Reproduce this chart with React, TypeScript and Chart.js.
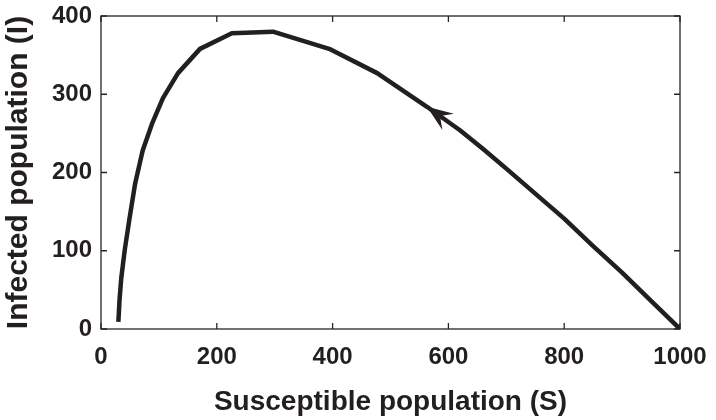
import React, { useEffect, useRef } from "react";
import { Chart, registerables } from "chart.js";

Chart.register(...registerables);

// Trajectory (in order of travel: S decreasing)
const susceptible = [1000, 950, 900, 850, 800, 750, 700, 660, 620, 563, 477, 394, 297, 226, 171, 133, 107, 88, 72, 59, 49, 41, 35, 32, 30];
const infected = [0, 36, 72, 106, 141, 173, 205, 230, 254, 284, 327, 358, 380, 378, 358, 327, 295, 262, 228, 186, 140, 101, 65, 37, 9];

// Arrow head location on the curve (tip) and a point behind it for direction
const arrowTip = { S: 563, I: 284 };
const arrowFrom = { S: 620, I: 254 };

const xTicks = [0, 200, 400, 600, 800, 1000];
const yTicks = [0, 100, 200, 300, 400];

const xTitle = "Susceptible population (S)";
const yTitle = "Infected population (I)";

const INK = "#231f20";
const FONT = "'Liberation Sans', Arial, Helvetica, sans-serif";

const frameAndArrow = {
  id: "frameAndArrow",
  afterDatasetsDraw(chart: any) {
    const { ctx, chartArea } = chart;
    const xs = chart.scales.x;
    const ys = chart.scales.y;
    const { left, right, top, bottom } = chartArea;
    ctx.save();
    // arrow head
    const tx = xs.getPixelForValue(arrowTip.S);
    const ty = ys.getPixelForValue(arrowTip.I);
    const fx = xs.getPixelForValue(arrowFrom.S);
    const fy = ys.getPixelForValue(arrowFrom.I);
    let dx = fx - tx;
    let dy = fy - ty;
    const len = Math.hypot(dx, dy);
    dx /= len;
    dy /= len;
    const px = -dy;
    const py = dx;
    const L = 26;
    const W = 10;
    const N = 16;
    ctx.fillStyle = INK;
    ctx.beginPath();
    ctx.moveTo(tx, ty);
    ctx.lineTo(tx + dx * L + px * W, ty + dy * L + py * W);
    ctx.lineTo(tx + dx * N, ty + dy * N);
    ctx.lineTo(tx + dx * L - px * W, ty + dy * L - py * W);
    ctx.closePath();
    ctx.fill();

    // frame
    ctx.strokeStyle = "#262626";
    ctx.lineWidth = 1.3;
    ctx.strokeRect(left, top, right - left, bottom - top);
    // inward ticks on all four sides
    const tl = 6;
    ctx.beginPath();
    for (const v of xTicks) {
      const x = xs.getPixelForValue(v);
      ctx.moveTo(x, bottom);
      ctx.lineTo(x, bottom - tl);
      ctx.moveTo(x, top);
      ctx.lineTo(x, top + tl);
    }
    for (const v of yTicks) {
      const y = ys.getPixelForValue(v);
      ctx.moveTo(left, y);
      ctx.lineTo(left + tl, y);
      ctx.moveTo(right, y);
      ctx.lineTo(right - tl, y);
    }
    ctx.stroke();
    ctx.restore();
  },
};

export default function App() {
  const ref = useRef<HTMLCanvasElement | null>(null);
  useEffect(() => {
    if (!ref.current) return;
    const chart = new Chart(ref.current, {
      type: "scatter",
      data: {
        datasets: [
          {
            data: susceptible.map((s, i) => ({ x: s, y: infected[i] })),
            showLine: true,
            borderColor: INK,
            borderWidth: 4.5,
            pointRadius: 0,
            tension: 0,
            borderJoinStyle: "round",
            borderCapStyle: "butt",
          } as any,
        ],
      },
      options: {
        responsive: false,
        animation: false,
        events: [],
        layout: { padding: { left: 0, right: 36, top: 16, bottom: 0 } },
        plugins: { legend: { display: false }, tooltip: { enabled: false } },
        scales: {
          x: {
            type: "linear",
            min: 0,
            max: 1000,
            afterBuildTicks: (s: any) => {
              s.ticks = xTicks.map((v) => ({ value: v }));
            },
            afterFit: (s: any) => {
              s.height = 91;
              s.paddingLeft = 0;
              s.paddingRight = 0;
            },
            ticks: {
              color: INK,
              font: { family: FONT, size: 24, weight: "bold" },
              padding: 14,
              maxRotation: 0,
              callback: (v: any) => String(v),
            },
            grid: { display: false, drawTicks: false },
            border: { display: false },
            title: {
              display: true,
              text: xTitle,
              color: INK,
              font: { family: FONT, size: 28, weight: "bold" },
              padding: { top: 0, bottom: 1 },
            },
          },
          y: {
            type: "linear",
            min: 0,
            max: 400,
            afterBuildTicks: (s: any) => {
              s.ticks = yTicks.map((v) => ({ value: v }));
            },
            afterFit: (s: any) => {
              s.width = 101;
              s.paddingTop = 0;
              s.paddingBottom = 0;
            },
            ticks: {
              color: INK,
              font: { family: FONT, size: 24, weight: "bold" },
              padding: 9,
              callback: (v: any) => String(v),
            },
            grid: { display: false, drawTicks: false },
            border: { display: false },
            title: {
              display: true,
              text: yTitle,
              color: INK,
              font: { family: FONT, size: 30, weight: "bold" },
              padding: { top: 1, bottom: 0 },
            },
          },
        },
      },
      plugins: [frameAndArrow],
    } as any);
    return () => chart.destroy();
  }, []);
  return (
    <div style={{ position: "absolute", left: 0, top: 0, width: 716, height: 420, background: "#fff" }}>
      <canvas ref={ref} width={716} height={420} style={{ display: "block" }} />
    </div>
  );
}
